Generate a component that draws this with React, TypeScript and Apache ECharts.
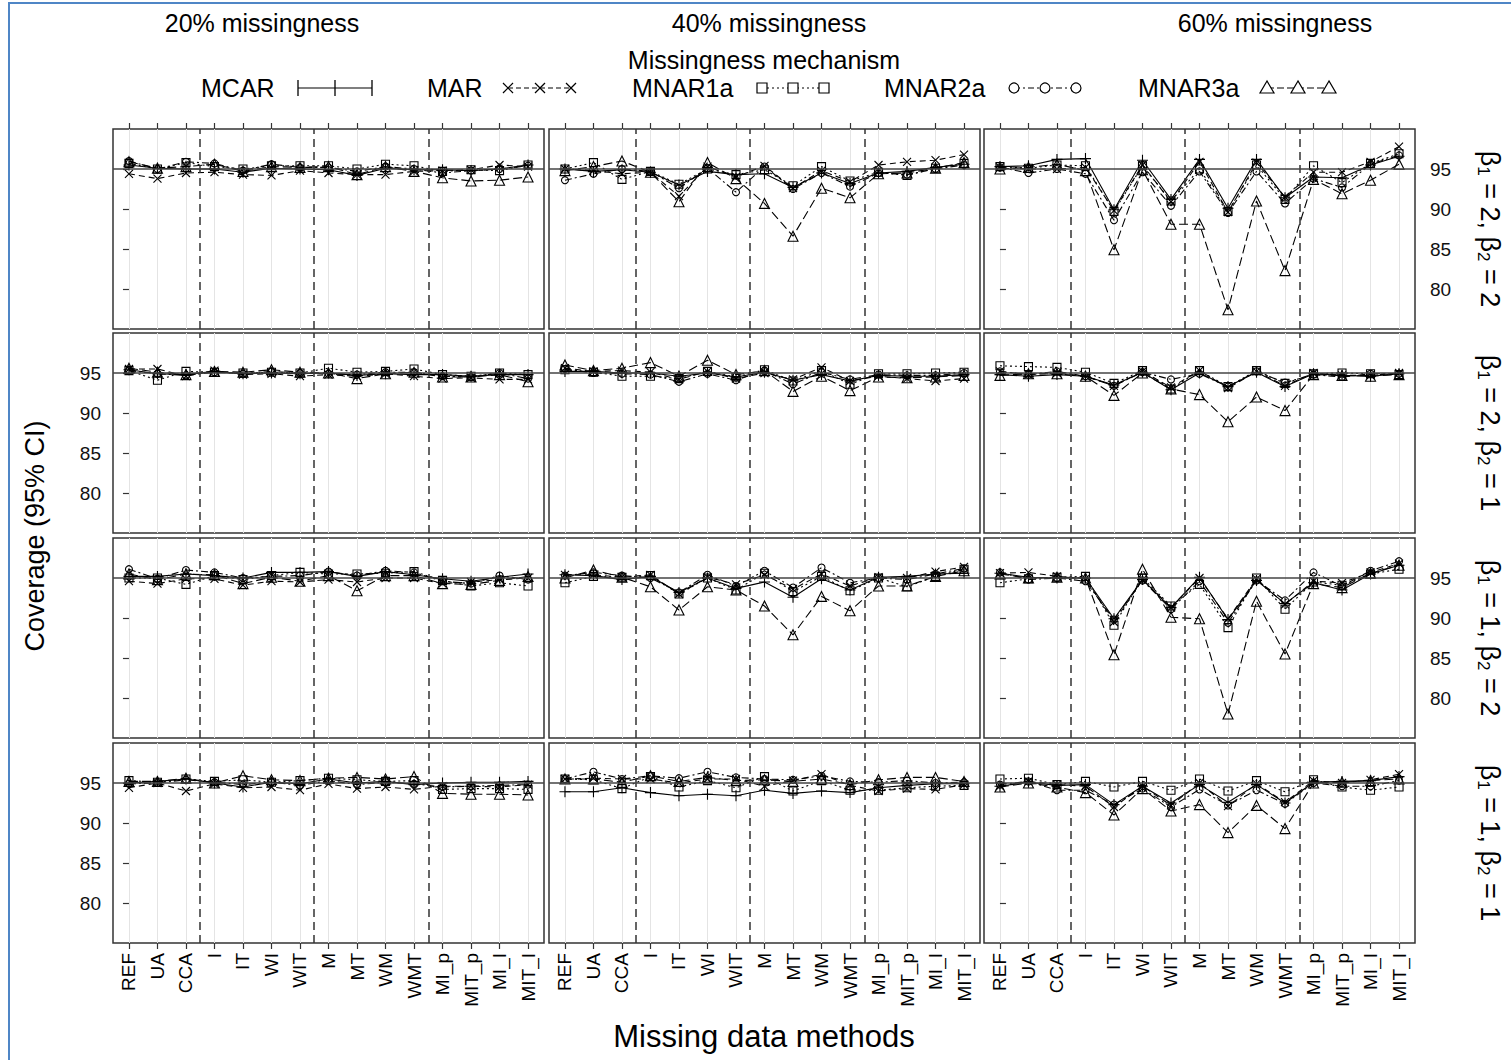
import React, { useEffect, useRef } from "react";
import * as echarts from "echarts";

const methods = ["REF", "UA", "CCA", "I", "IT", "WI", "WIT", "M", "MT", "WM", "WMT", "MI_p", "MIT_p", "MI_I", "MIT_I"];
const mechanisms = ["MCAR", "MAR", "MNAR1a", "MNAR2a", "MNAR3a"];
const missingLevels = ["20% missingness", "40% missingness", "60% missingness"];
const betaRows = [["2", "2"], ["2", "1"], ["1", "2"], ["1", "1"]];
const yTickValues = [80, 85, 90, 95];
const xTickValues = [0, 1, 2, 3, 4, 5, 6, 7, 8, 9, 10, 11, 12, 13, 14];
const refCoverage = 95;
const groupBreaks = [2.5, 6.5, 10.5];

// rows of each panel: MCAR, MAR, MNAR1a, MNAR2a, MNAR3a
const cov_b22_m20 = [
  [95.5, 95.1, 95.0, 95.0, 94.6, 95.1, 95.0, 94.9, 94.2, 95.1, 94.9, 94.9, 94.8, 95.0, 95.5],
  [94.4, 93.8, 94.5, 94.6, 94.3, 94.2, 94.8, 94.5, 94.3, 94.3, 94.7, 94.8, 94.9, 95.5, 95.3],
  [95.7, 95.0, 95.8, 95.3, 95.0, 95.4, 95.4, 95.4, 95.0, 95.6, 95.4, 94.7, 94.9, 94.8, 95.5],
  [96.0, 95.0, 95.9, 95.7, 94.8, 95.6, 95.2, 95.2, 94.7, 95.3, 95.0, 94.5, 94.8, 95.0, 95.4],
  [95.9, 95.1, 95.3, 95.6, 94.7, 95.3, 95.2, 95.3, 94.3, 95.3, 94.7, 93.9, 93.5, 93.6, 94.0],
];
const cov_b22_m40 = [
  [95.0, 94.7, 94.9, 94.6, 93.0, 94.7, 94.3, 94.4, 92.7, 94.5, 93.2, 94.5, 94.7, 95.2, 95.6],
  [95.0, 94.8, 94.4, 94.6, 91.6, 95.3, 94.0, 95.4, 92.6, 94.8, 93.4, 95.5, 95.9, 96.1, 96.8],
  [95.0, 95.8, 93.7, 94.7, 93.1, 95.0, 94.3, 94.9, 92.9, 95.3, 93.5, 94.6, 94.2, 95.1, 95.7],
  [93.6, 94.4, 95.0, 94.7, 92.6, 95.1, 92.1, 95.3, 92.5, 94.5, 92.8, 94.5, 94.3, 95.0, 95.5],
  [94.8, 95.3, 96.0, 94.6, 90.9, 95.8, 93.8, 90.7, 86.6, 92.6, 91.4, 94.4, 94.5, 95.1, 95.8],
];
const cov_b22_m60 = [
  [95.3, 95.4, 96.2, 96.3, 89.9, 96.1, 91.2, 96.2, 90.1, 96.2, 91.4, 94.0, 93.9, 95.5, 96.6],
  [95.2, 95.0, 95.0, 95.2, 89.8, 95.5, 90.9, 95.9, 89.6, 95.8, 91.5, 94.6, 94.6, 95.9, 97.8],
  [95.3, 95.1, 95.5, 95.4, 89.7, 95.4, 91.0, 95.0, 89.7, 95.5, 91.2, 95.4, 93.3, 95.7, 96.9],
  [95.2, 94.5, 95.0, 94.4, 88.6, 94.6, 90.4, 94.7, 89.5, 94.7, 90.7, 93.8, 92.7, 95.6, 96.7],
  [95.0, 95.2, 95.6, 94.8, 84.9, 94.9, 88.1, 88.1, 77.4, 91.0, 82.3, 93.7, 91.9, 93.6, 95.6],
];
const cov_b21_m20 = [
  [95.4, 94.9, 94.8, 95.2, 94.9, 95.0, 94.9, 95.0, 94.7, 94.9, 94.8, 94.8, 94.6, 94.8, 94.8],
  [95.5, 95.5, 94.6, 95.3, 94.8, 94.9, 94.6, 94.8, 94.6, 94.9, 94.6, 94.3, 94.4, 94.2, 94.2],
  [95.3, 94.1, 95.2, 95.1, 95.0, 95.1, 95.0, 95.6, 95.1, 95.2, 95.5, 94.8, 94.6, 95.0, 94.8],
  [95.3, 94.9, 94.7, 95.1, 94.9, 95.2, 95.0, 94.9, 94.8, 95.1, 95.1, 94.6, 94.5, 95.0, 94.3],
  [95.6, 95.1, 94.8, 95.2, 95.1, 95.4, 95.1, 95.0, 94.3, 94.9, 95.1, 94.5, 94.5, 94.8, 93.9],
];
const cov_b21_m40 = [
  [95.2, 95.2, 95.0, 95.0, 94.6, 95.0, 94.5, 95.1, 94.1, 94.8, 94.0, 94.7, 94.6, 94.6, 94.8],
  [95.6, 95.2, 95.3, 95.1, 94.2, 95.2, 94.3, 95.0, 94.2, 95.7, 94.0, 94.6, 94.3, 94.0, 94.3],
  [95.4, 95.1, 94.6, 94.6, 94.3, 95.2, 94.5, 95.4, 94.0, 95.3, 93.6, 94.9, 94.9, 95.0, 95.1],
  [95.5, 95.0, 94.9, 94.8, 93.9, 94.9, 94.1, 95.3, 93.6, 95.1, 94.2, 94.8, 94.7, 94.7, 95.0],
  [96.0, 95.3, 95.6, 96.3, 94.6, 96.6, 94.8, 95.3, 92.7, 94.6, 92.8, 94.5, 94.4, 94.5, 94.7],
];
const cov_b21_m60 = [
  [94.8, 94.6, 94.8, 94.6, 93.5, 95.1, 92.9, 95.0, 93.3, 95.1, 93.3, 94.9, 94.7, 94.6, 94.9],
  [95.2, 94.8, 95.0, 94.6, 93.4, 95.2, 93.2, 95.3, 93.1, 95.2, 93.4, 95.0, 94.7, 94.7, 95.0],
  [95.9, 95.8, 95.7, 95.1, 93.7, 95.3, 93.0, 95.3, 93.3, 95.3, 93.7, 94.9, 95.0, 94.9, 94.8],
  [95.2, 94.8, 95.2, 94.6, 93.4, 95.1, 94.2, 94.9, 93.3, 95.2, 93.8, 94.8, 94.5, 94.9, 94.9],
  [94.7, 94.9, 94.9, 94.6, 92.2, 95.0, 93.0, 92.3, 88.9, 92.0, 90.3, 94.8, 94.7, 94.6, 94.8],
];
const cov_b12_m20 = [
  [95.2, 95.2, 95.5, 95.3, 95.0, 95.7, 95.7, 95.8, 95.2, 95.8, 95.4, 94.9, 94.6, 95.1, 95.5],
  [94.6, 94.3, 94.9, 94.9, 94.1, 94.6, 94.5, 94.8, 94.5, 95.0, 95.0, 94.3, 94.5, 94.8, 95.0],
  [95.0, 95.0, 94.2, 95.3, 94.8, 95.3, 95.7, 95.5, 95.5, 95.6, 95.8, 94.7, 94.0, 94.4, 94.0],
  [96.1, 94.9, 96.0, 95.7, 95.0, 95.2, 95.3, 95.8, 95.3, 95.9, 95.7, 94.6, 94.3, 95.3, 94.8],
  [95.5, 94.8, 95.5, 95.4, 94.3, 95.1, 94.6, 95.3, 93.4, 95.3, 95.3, 94.3, 94.2, 94.7, 95.2],
];
const cov_b12_m40 = [
  [95.4, 95.3, 94.8, 95.2, 93.2, 95.0, 93.7, 94.5, 92.6, 94.9, 93.5, 95.1, 95.2, 95.5, 95.6],
  [95.4, 95.4, 95.1, 95.4, 93.0, 95.1, 94.2, 95.4, 93.6, 95.5, 94.0, 95.1, 95.0, 95.8, 96.4],
  [94.4, 95.2, 95.1, 95.3, 93.0, 95.0, 93.5, 95.6, 93.3, 95.2, 93.4, 95.0, 93.9, 95.2, 96.1],
  [95.3, 95.7, 95.3, 95.0, 93.2, 95.4, 94.0, 95.9, 93.8, 96.3, 94.4, 95.0, 94.8, 95.5, 96.2],
  [95.0, 96.0, 95.1, 93.9, 91.0, 93.9, 93.5, 91.5, 87.9, 92.7, 90.9, 94.0, 94.0, 95.2, 95.9],
];
const cov_b12_m60 = [
  [95.6, 95.1, 95.0, 95.0, 89.9, 94.8, 91.3, 95.1, 89.8, 94.7, 91.8, 94.4, 93.5, 95.5, 96.6],
  [95.6, 95.7, 95.2, 94.9, 89.5, 94.8, 91.3, 95.0, 89.9, 94.9, 91.7, 94.6, 94.4, 95.7, 96.8],
  [94.4, 94.9, 95.1, 95.2, 89.1, 95.0, 91.5, 94.2, 88.8, 95.0, 91.1, 94.5, 94.1, 95.5, 96.1],
  [95.7, 94.8, 95.0, 94.6, 89.8, 94.7, 91.1, 94.6, 89.4, 94.7, 92.2, 95.7, 94.0, 95.9, 97.1],
  [95.5, 95.0, 95.1, 95.0, 85.4, 96.1, 90.1, 89.9, 78.0, 92.1, 85.5, 94.3, 93.8, 95.6, 96.6],
];
const cov_b11_m20 = [
  [95.0, 95.2, 95.5, 95.0, 94.5, 95.1, 94.9, 95.5, 95.0, 95.2, 94.8, 95.0, 95.1, 95.1, 95.2],
  [94.4, 95.0, 94.0, 94.9, 94.4, 94.5, 94.1, 94.9, 94.3, 94.5, 94.2, 94.6, 94.6, 94.5, 94.8],
  [95.3, 95.1, 95.5, 95.2, 95.4, 95.1, 95.3, 95.6, 95.4, 95.2, 95.3, 94.2, 94.3, 94.3, 94.2],
  [94.9, 95.0, 95.4, 95.1, 94.8, 95.1, 94.7, 95.3, 94.8, 95.1, 94.9, 94.5, 94.6, 94.7, 94.8],
  [95.2, 95.2, 95.6, 95.0, 95.9, 95.4, 95.3, 95.6, 95.7, 95.5, 95.8, 93.7, 93.6, 93.6, 93.5],
];
const cov_b11_m40 = [
  [93.9, 93.9, 94.4, 93.8, 93.4, 93.6, 93.4, 94.1, 93.7, 94.0, 93.8, 94.4, 94.7, 94.9, 94.9],
  [95.5, 95.6, 95.5, 95.5, 95.0, 95.5, 95.5, 94.6, 95.3, 96.1, 94.7, 94.0, 94.3, 94.2, 94.8],
  [95.5, 95.4, 94.3, 95.8, 94.5, 95.3, 94.4, 95.8, 94.0, 95.3, 94.1, 94.1, 94.4, 94.6, 94.7],
  [95.5, 96.4, 95.5, 95.9, 95.6, 96.4, 95.7, 95.5, 95.4, 95.9, 95.2, 95.1, 95.3, 95.0, 95.1],
  [95.5, 95.5, 95.1, 95.9, 95.2, 95.7, 95.3, 95.4, 95.2, 95.5, 94.8, 95.4, 95.7, 95.7, 95.2],
];
const cov_b11_m60 = [
  [94.6, 95.1, 94.7, 94.8, 92.3, 94.6, 92.5, 94.8, 92.6, 94.8, 92.5, 95.1, 95.2, 95.3, 95.8],
  [94.6, 95.2, 94.8, 94.6, 92.0, 94.6, 92.2, 95.0, 92.1, 94.9, 92.6, 95.3, 95.0, 95.4, 96.1],
  [95.5, 95.6, 94.8, 95.2, 94.5, 95.2, 94.1, 95.5, 94.0, 95.3, 93.9, 95.4, 94.5, 94.1, 94.5],
  [94.8, 95.2, 94.1, 94.1, 92.3, 94.3, 92.0, 94.2, 92.2, 94.1, 92.4, 95.0, 94.6, 94.6, 95.3],
  [94.5, 95.0, 94.5, 93.8, 91.0, 94.3, 91.5, 92.3, 88.8, 92.2, 89.3, 95.0, 95.1, 95.3, 95.5],
];

const panelGrid = [
  [cov_b22_m20, cov_b22_m40, cov_b22_m60],
  [cov_b21_m20, cov_b21_m40, cov_b21_m60],
  [cov_b12_m20, cov_b12_m40, cov_b12_m60],
  [cov_b11_m20, cov_b11_m40, cov_b11_m60],
];

const FONT = "'Liberation Sans', Arial, Helvetica, sans-serif";
const colLeft = [113, 549, 984];
const panelW = 431;
const rowTop = [129, 333, 538, 743];
const panelH = 200;
const titleX = [262, 769, 1275];

const seriesSymbols = [
  "path://M0,5L10,5M5,0L5,10",
  "path://M0,0L10,10M10,0L0,10",
  "rect",
  "circle",
  "triangle",
];
const seriesSymbolSize = [11, 8, 8, 7, 10];
const seriesLineTypes: any[] = ["solid", [6, 4], [2, 3], [7, 3, 2, 3], [9, 4]];

function legendGraphics(): any[] {
  const out: any[] = [];
  const y = 88;
  const items = [
    { text: mechanisms[0], tx: 201, marks: [298, 335, 372], dash: null },
    { text: mechanisms[1], tx: 427, marks: [508, 540, 571], dash: [5, 3] },
    { text: mechanisms[2], tx: 632, marks: [762, 793, 824], dash: [2, 3] },
    { text: mechanisms[3], tx: 884, marks: [1014, 1045, 1076], dash: [6, 3, 2, 3] },
    { text: mechanisms[4], tx: 1138, marks: [1267, 1298, 1329], dash: [7, 3] },
  ];
  items.forEach((it, k) => {
    out.push({
      type: "text",
      x: it.tx,
      y,
      style: { text: it.text, fill: "#000", fontSize: 25, fontFamily: FONT, textAlign: "left", textVerticalAlign: "middle" },
    });
    out.push({
      type: "line",
      shape: { x1: it.marks[0], y1: y, x2: it.marks[2], y2: y },
      style: { stroke: "#000", lineWidth: 1.2, lineDash: it.dash || undefined },
    });
    it.marks.forEach((mx) => {
      if (k === 0) {
        out.push({ type: "line", shape: { x1: mx, y1: y - 8, x2: mx, y2: y + 8 }, style: { stroke: "#000", lineWidth: 1.3 } });
      } else if (k === 1) {
        out.push({ type: "line", shape: { x1: mx - 5, y1: y - 5, x2: mx + 5, y2: y + 5 }, style: { stroke: "#000", lineWidth: 1.2 } });
        out.push({ type: "line", shape: { x1: mx + 5, y1: y - 5, x2: mx - 5, y2: y + 5 }, style: { stroke: "#000", lineWidth: 1.2 } });
      } else if (k === 2) {
        out.push({ type: "rect", shape: { x: mx - 5, y: y - 5, width: 10, height: 10 }, style: { fill: "#fff", stroke: "#000", lineWidth: 1.2 } });
      } else if (k === 3) {
        out.push({ type: "circle", shape: { cx: mx, cy: y, r: 5 }, style: { fill: "#fff", stroke: "#000", lineWidth: 1.2 } });
      } else {
        out.push({
          type: "polygon",
          shape: { points: [[mx, y - 7], [mx - 7, y + 5], [mx + 7, y + 5]] },
          style: { fill: "#fff", stroke: "#000", lineWidth: 1.2 },
        });
      }
    });
  });
  return out;
}

function buildOption(): any {
  const grid: any[] = [];
  const xAxis: any[] = [];
  const yAxis: any[] = [];
  const series: any[] = [];

  for (let r = 0; r < 4; r++) {
    for (let c = 0; c < 3; c++) {
      const idx = r * 3 + c;
      grid.push({
        left: colLeft[c],
        top: rowTop[r],
        width: panelW,
        height: panelH,
        show: true,
        borderColor: "#333",
        borderWidth: 1.5,
        backgroundColor: "transparent",
        outerBoundsMode: "none",
        containLabel: false,
      });
      xAxis.push({
        gridIndex: idx,
        type: "value",
        min: -0.56,
        max: 14.56,
        splitNumber: 15,
        minInterval: 1,
        maxInterval: 1,
        position: r === 0 ? "top" : "bottom",
        axisLine: { show: false },
        axisTick: {
          show: r === 0 || r === 3,
          customValues: xTickValues,
          length: 6,
          lineStyle: { color: "#333", width: 1.2 },
        },
        axisLabel: {
          show: r === 3,
          customValues: xTickValues,
          rotate: 90,
          margin: 10,
          fontSize: 19,
          color: "#000",
          fontFamily: FONT,
          formatter: (v: number) => methods[Math.round(v)] || "",
        },
        splitLine: { show: true, lineStyle: { color: "#e4e4e4", width: 1 } },
      });
      const showYLabel = (c === 0 && r % 2 === 1) || (c === 2 && r % 2 === 0);
      yAxis.push({
        gridIndex: idx,
        type: "value",
        min: 75,
        max: 100,
        interval: 5,
        position: c === 2 ? "right" : "left",
        axisLine: { show: false },
        axisTick: {
          show: c !== 1,
          customValues: yTickValues,
          length: 6,
          lineStyle: { color: "#333", width: 1.2 },
        },
        axisLabel: {
          show: showYLabel,
          customValues: yTickValues,
          margin: c === 2 ? 15 : 12,
          fontSize: 19,
          color: "#111",
          fontFamily: FONT,
        },
        splitLine: { show: false },
      });
      const panel = panelGrid[r][c];
      mechanisms.forEach((name, m) => {
        const s: any = {
          name,
          type: "line",
          xAxisIndex: idx,
          yAxisIndex: idx,
          data: panel[m].map((v, i) => [i, v]),
          symbol: seriesSymbols[m],
          symbolSize: seriesSymbolSize[m],
          showSymbol: true,
          lineStyle: { color: "#000", width: 1.1, type: seriesLineTypes[m] },
          itemStyle: { color: "rgba(255,255,255,0)", borderColor: "#000", borderWidth: 1.1 },
          emphasis: { disabled: true },
          silent: true,
          z: 3,
        };
        if (m === 0) {
          s.markLine = {
            silent: true,
            symbol: ["none", "none"],
            label: { show: false },
            lineStyle: { color: "#333", width: 1.5, type: [8, 5] },
            data: [
              ...groupBreaks.map((x) => ({ xAxis: x })),
              { yAxis: refCoverage, lineStyle: { type: "solid", color: "#444", width: 1.5 } },
            ],
          };
        }
        series.push(s);
      });
    }
  }

  const graphic: any[] = [
    { type: "line", shape: { x1: 8, y1: 3, x2: 1511, y2: 3 }, style: { stroke: "#4f86c6", lineWidth: 2 } },
    { type: "line", shape: { x1: 9, y1: 3, x2: 9, y2: 1060 }, style: { stroke: "#4f86c6", lineWidth: 2 } },
  ];
  missingLevels.forEach((t, c) => {
    graphic.push({
      type: "text",
      x: titleX[c],
      y: 23,
      style: { text: t, fill: "#000", fontSize: 25, fontFamily: FONT, textAlign: "center", textVerticalAlign: "middle" },
    });
  });
  graphic.push({
    type: "text",
    x: 764,
    y: 60,
    style: { text: "Missingness mechanism", fill: "#000", fontSize: 25, fontFamily: FONT, textAlign: "center", textVerticalAlign: "middle" },
  });
  graphic.push(...legendGraphics());
  graphic.push({
    type: "text",
    x: 35,
    y: 536,
    rotation: Math.PI / 2,
    style: { text: "Coverage (95% CI)", fill: "#000", fontSize: 27, fontFamily: FONT, textAlign: "center", textVerticalAlign: "middle" },
  });
  graphic.push({
    type: "text",
    x: 764,
    y: 1036,
    style: { text: "Missing data methods", fill: "#000", fontSize: 31, fontFamily: FONT, textAlign: "center", textVerticalAlign: "middle" },
  });
  betaRows.forEach((b, r) => {
    graphic.push({
      type: "text",
      x: 1490,
      y: rowTop[r] + panelH / 2,
      rotation: -Math.PI / 2,
      style: {
        text: `{b|β}{s|1}{b| = ${b[0]}, β}{s|2}{b| = ${b[1]}}`,
        textAlign: "center",
        textVerticalAlign: "middle",
        rich: {
          b: { fontSize: 27, fontFamily: FONT, fill: "#000", lineHeight: 30 },
          s: { fontSize: 17, fontFamily: FONT, fill: "#000", verticalAlign: "bottom", lineHeight: 30 },
        },
      },
    });
  });

  return {
    animation: false,
    backgroundColor: "#fff",
    grid,
    xAxis,
    yAxis,
    series,
    graphic,
  };
}

export default function App() {
  const ref = useRef<HTMLDivElement>(null);
  useEffect(() => {
    if (!ref.current) return;
    const chart = echarts.init(ref.current, null, { renderer: "svg" });
    chart.setOption(buildOption());
    return () => chart.dispose();
  }, []);
  return (
    <div
      ref={ref}
      style={{ position: "fixed", left: 0, top: 0, width: 1511, height: 1060, background: "#fff" }}
    />
  );
}
